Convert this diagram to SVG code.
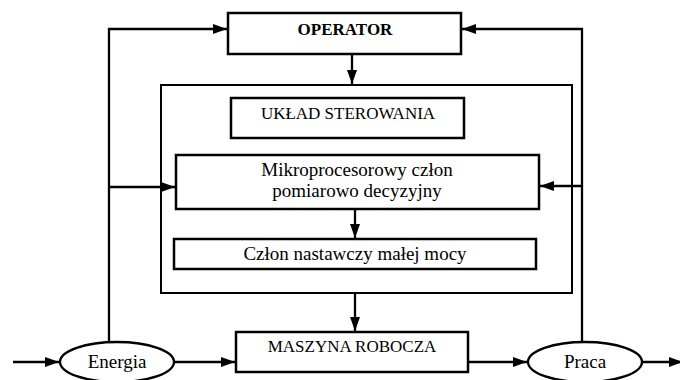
<svg xmlns="http://www.w3.org/2000/svg" width="680" height="380" viewBox="0 0 680 380">
  <style>
    .box { fill: #ffffff; stroke: #000000; stroke-width: 2.5; }
    .frame { fill: none; stroke: #000000; stroke-width: 2; }
    .oval { fill: #ffffff; stroke: #000000; stroke-width: 2.3; }
    .wire { fill: none; stroke: #000000; stroke-width: 2.3; }
    .arrow { marker-end: url(#head); }
    text { font-family: "Liberation Serif", "DejaVu Serif", serif; font-size: 17px; fill: #000000; text-anchor: middle; }
    .bold { font-weight: bold; }
    .lower { font-size: 19px; }
  </style>
  <defs>
    <marker id="head" viewBox="0 0 14 10" refX="14" refY="5" markerWidth="14" markerHeight="10" markerUnits="userSpaceOnUse" orient="auto">
      <path d="M0,0 L14,5 L0,10 z" fill="#000000"/>
    </marker>
  </defs>

  <rect width="680" height="380" fill="#ffffff"/>

  <!-- control system enclosure -->
  <g id="control-frame">
    <rect class="frame" x="161" y="85" width="411" height="208"/>
  </g>

  <!-- connectors -->
  <g id="connectors">
    <polyline class="wire arrow" points="109,342 109,29 227,29"/>
    <line class="wire arrow" x1="109" y1="187" x2="175" y2="187"/>
    <polyline class="wire arrow" points="582,342 582,29 462,29"/>
    <line class="wire arrow" x1="582" y1="186" x2="540" y2="186"/>
    <line class="wire arrow" x1="352" y1="54" x2="352" y2="84"/>
    <line class="wire arrow" x1="355" y1="209" x2="355" y2="238"/>
    <line class="wire arrow" x1="355" y1="293" x2="355" y2="331"/>
    <line class="wire arrow" x1="13" y1="362" x2="59" y2="362"/>
    <line class="wire arrow" x1="174" y1="362" x2="235" y2="362"/>
    <line class="wire arrow" x1="468" y1="362" x2="527" y2="362"/>
    <line class="wire arrow" x1="642" y1="362" x2="683" y2="362"/>
  </g>

  <g id="operator">
    <rect class="box" x="228" y="13" width="233" height="41"/>
    <text class="bold" x="345" y="35">OPERATOR</text>
  </g>

  <g id="uklad-sterowania">
    <rect class="box" x="231" y="98" width="233" height="40"/>
    <text x="348" y="119">UKŁAD STEROWANIA</text>
  </g>

  <g id="mikroprocesor">
    <rect class="box" x="176" y="155" width="363" height="54"/>
    <text class="lower" x="357" y="176">Mikroprocesorowy człon</text>
    <text class="lower" x="357" y="197">pomiarowo decyzyjny</text>
  </g>

  <g id="czlon-nastawczy">
    <rect class="box" x="174" y="239" width="362" height="30"/>
    <text class="lower" x="355" y="260">Człon nastawczy małej mocy</text>
  </g>

  <g id="maszyna-robocza">
    <rect class="box" x="236" y="332" width="232" height="40"/>
    <text x="352" y="352">MASZYNA ROBOCZA</text>
  </g>

  <g id="energia">
    <ellipse class="oval" cx="117" cy="362" rx="57" ry="20"/>
    <text class="lower" x="117" y="368">Energia</text>
  </g>

  <g id="praca">
    <ellipse class="oval" cx="585" cy="362" rx="57" ry="20"/>
    <text class="lower" x="585" y="368">Praca</text>
  </g>
</svg>
